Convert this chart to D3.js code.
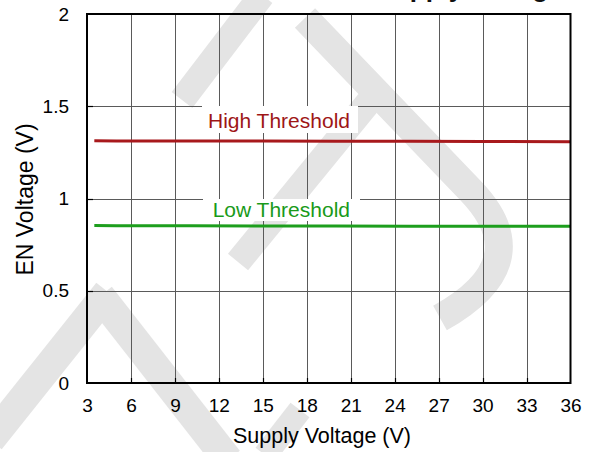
<!DOCTYPE html>
<html>
<head>
<meta charset="utf-8">
<script src="https://cdn.jsdelivr.net/npm/d3@7"></script>
<style>
  html, body { margin: 0; padding: 0; background: #fff; }
  svg { display: block; font-family: "Liberation Sans", Arial, sans-serif; }
</style>
</head>
<body>
<svg id="chart" width="591" height="452"></svg>
<script>
// EN pin thresholds measured across the supply range
const supplyV = [3.5, 5, 10, 15, 20, 25, 30, 36];
const highThreshold = [1.313, 1.312, 1.311, 1.311, 1.310, 1.310, 1.309, 1.308];
const lowThreshold  = [0.853, 0.852, 0.852, 0.851, 0.851, 0.850, 0.850, 0.849];

const xTicks = [3, 6, 9, 12, 15, 18, 21, 24, 27, 30, 33, 36];
const yTicks = [0, 0.5, 1, 1.5, 2];
const yTickLabels = ["0", "0.5", "1", "1.5", "2"];

const svg = d3.select("#chart");
const plot = { left: 87, right: 570.5, top: 14, bottom: 383 };

const x = d3.scaleLinear().domain([3, 36]).range([plot.left, plot.right]);
const y = d3.scaleLinear().domain([0, 2]).range([plot.bottom, plot.top]);

// light background logo strokes
const wm = svg.append("g").attr("fill", "none").attr("stroke", "#e4e4e4").attr("stroke-linecap", "butt");
const wmPaths = [
  { d: "M262,-5 L182,100", w: 26 },
  { d: "M305,18 L470,190 Q540,262 440,318", w: 28 },
  { d: "M238,262 L372,98", w: 26 },
  { d: "M-10,440 L108,292", w: 30 },
  { d: "M100,296 L228,460", w: 30 },
  { d: "M265,455 L300,410", w: 24 }
];
wmPaths.forEach(p => wm.append("path").attr("d", p.d).attr("stroke-width", p.w));

// title (sits mostly above the visible area)
svg.append("text")
  .attr("x", 562.5).attr("y", -3.5)
  .attr("text-anchor", "end")
  .attr("font-size", 26).attr("font-weight", "bold").attr("fill", "#111")
  .text("EN Threshold vs. Supply Voltage");

// grid
const grid = svg.append("g").attr("stroke", "#5a5a5a").attr("stroke-width", 1);
grid.selectAll("line.v").data(xTicks.slice(1, -1)).join("line")
  .attr("x1", d => Math.round(x(d)) + 0.5).attr("x2", d => Math.round(x(d)) + 0.5)
  .attr("y1", plot.top).attr("y2", plot.bottom);
grid.selectAll("line.h").data(yTicks.slice(1, -1)).join("line")
  .attr("y1", d => Math.round(y(d)) + 0.5).attr("y2", d => Math.round(y(d)) + 0.5)
  .attr("x1", plot.left).attr("x2", plot.right);

// inner tick marks on left and bottom
const tk = svg.append("g").attr("stroke", "#000").attr("stroke-width", 1.2);
tk.selectAll("line.xt").data(xTicks.slice(1, -1)).join("line")
  .attr("x1", d => Math.round(x(d)) + 0.5).attr("x2", d => Math.round(x(d)) + 0.5)
  .attr("y1", plot.bottom).attr("y2", plot.bottom - 5);
tk.selectAll("line.yt").data(yTicks.slice(1, -1)).join("line")
  .attr("y1", d => Math.round(y(d)) + 0.5).attr("y2", d => Math.round(y(d)) + 0.5)
  .attr("x1", plot.left).attr("x2", plot.left + 6);

// series labels on white boxes
const labels = [
  { text: "High Threshold", color: "#9e1616", box: [202, 106, 156, 27], tx: 350, ty: 128 },
  { text: "Low Threshold",  color: "#199a19", box: [203, 199, 157, 22], tx: 350, ty: 216.5 }
];
labels.forEach(l => {
  svg.append("rect").attr("x", l.box[0]).attr("y", l.box[1])
    .attr("width", l.box[2]).attr("height", l.box[3]).attr("fill", "#fff");
  svg.append("text").attr("x", l.tx).attr("y", l.ty).attr("text-anchor", "end")
    .attr("font-size", 21).attr("fill", l.color).text(l.text);
});

// threshold curves
const line = d3.line().x((d, i) => x(supplyV[i])).y(d => y(d));
svg.append("path").datum(highThreshold).attr("d", line)
  .attr("fill", "none").attr("stroke", "#a8191c").attr("stroke-width", 3);
svg.append("path").datum(lowThreshold).attr("d", line)
  .attr("fill", "none").attr("stroke", "#1d9e1d").attr("stroke-width", 3);

// frame
svg.append("rect")
  .attr("x", plot.left).attr("y", plot.top)
  .attr("width", plot.right - plot.left).attr("height", plot.bottom - plot.top)
  .attr("fill", "none").attr("stroke", "#000").attr("stroke-width", 2);

// axes tick labels
const xAxis = d3.axisBottom(x).tickValues(xTicks).tickSize(0).tickPadding(0);
const gx = svg.append("g").attr("transform", `translate(0,${plot.bottom})`).call(xAxis);
gx.select(".domain").remove();
gx.selectAll("text").attr("font-size", 19).attr("fill", "#000")
  .attr("font-family", "Liberation Sans, Arial, sans-serif")
  .attr("dy", null).attr("y", 28.5);

const yAxis = d3.axisLeft(y).tickValues(yTicks).tickFormat((d, i) => yTickLabels[i]).tickSize(0).tickPadding(18);
const gy = svg.append("g").attr("transform", `translate(${plot.left},0)`).call(yAxis);
gy.select(".domain").remove();
gy.selectAll("text").attr("font-size", 19).attr("fill", "#000")
  .attr("font-family", "Liberation Sans, Arial, sans-serif");

// axis titles
svg.append("text").attr("x", 322).attr("y", 443).attr("text-anchor", "middle")
  .attr("font-size", 21.5).attr("fill", "#000").text("Supply Voltage (V)");
svg.append("text").attr("transform", "translate(33,199.5) rotate(-90)")
  .attr("text-anchor", "middle").attr("font-size", 23).attr("fill", "#000")
  .text("EN Voltage (V)");
</script>
</body>
</html>
